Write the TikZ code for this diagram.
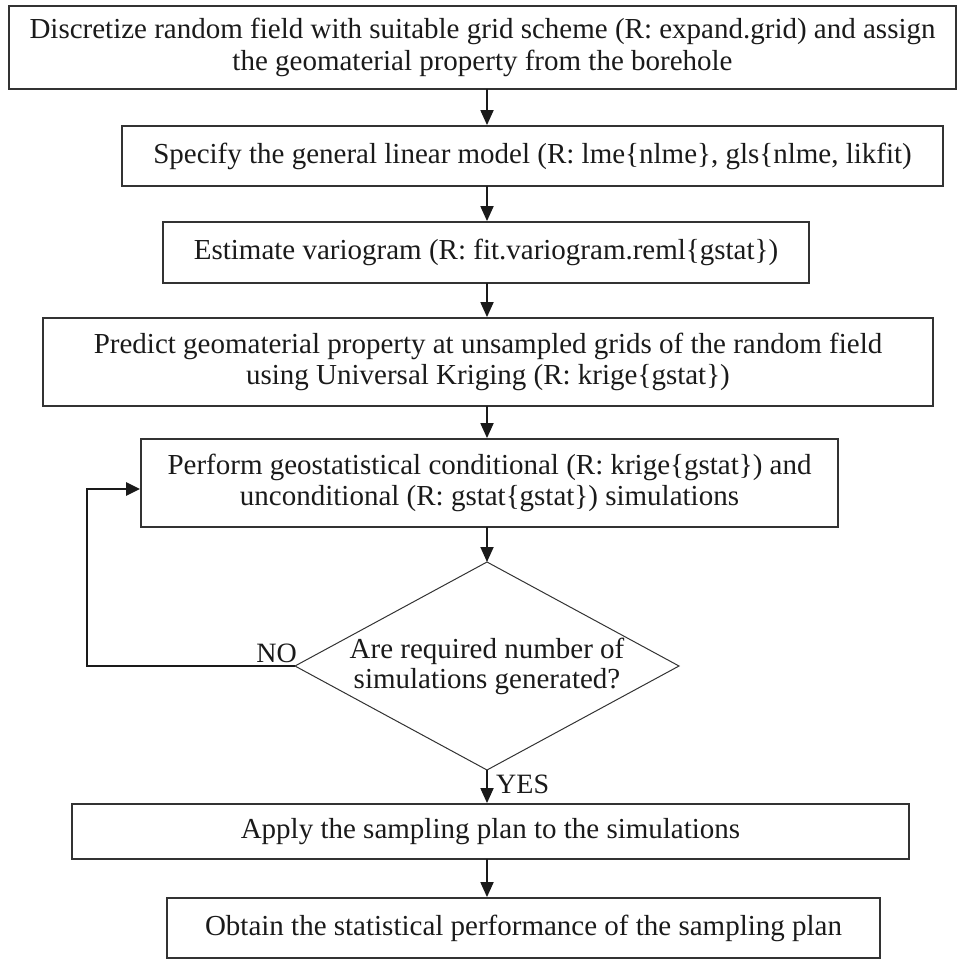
\documentclass[tikz,border=0pt]{standalone}
\usepackage{fontspec}
\setmainfont{Liberation Serif}
\usetikzlibrary{arrows.meta}
\definecolor{edge}{HTML}{333333}
\definecolor{ink}{HTML}{1A1A1A}
\tikzset{
  stepbox/.style={draw=edge, line width=1.8pt, rectangle, inner sep=0pt, align=center,
    text=ink, font=\fontsize{29}{31.5}\selectfont},
  decidetext/.style={inner sep=0pt, align=center, text=ink, font=\fontsize{29}{30}\selectfont},
  decideline/.style={draw=edge, line width=1pt},
  flow/.style={draw=ink, line width=1.8pt, -{Triangle[length=15pt,width=13pt]}},
  loopline/.style={draw=ink, line width=2.4pt, -{Triangle[length=14pt,width=13pt]}},
  lbl/.style={text=ink, inner sep=0pt, font=\fontsize{28}{30}\selectfont}
}
\begin{document}
\begin{tikzpicture}[x=1pt,y=-1pt]
\useasboundingbox (0,0) rectangle (957,960);
\node[stepbox, minimum width=947pt, minimum height=83pt] (b1) at (482.5,47.5)
  {Discretize random field with suitable grid scheme (R: expand.grid) and assign\\the geomaterial property from the borehole};
\node[stepbox, minimum width=821pt, minimum height=60pt] (b2) at (532.5,156)
  {Specify the general linear model (R: lme\{nlme\}, gls\{nlme, likfit)};
\node[stepbox, minimum width=646pt, minimum height=61pt] (b3) at (486,252.5)
  {Estimate variogram (R: fit.variogram.reml\{gstat\})};
\node[stepbox, minimum width=890pt, minimum height=88pt] (b4) at (488,362)
  {Predict geomaterial property at unsampled grids of the random field\\using Universal Kriging (R: krige\{gstat\})};
\node[stepbox, minimum width=697pt, minimum height=88pt] (b5) at (489.5,483)
  {Perform geostatistical conditional (R: krige\{gstat\}) and\\unconditional (R: gstat\{gstat\}) simulations};

\node[decidetext] (d) at (487,666) {Are required number of\\simulations generated?};
\coordinate (dN) at (487,562);
\coordinate (dE) at (679,666);
\coordinate (dS) at (487,770);
\coordinate (dW) at (295,666);
\draw[decideline] (dN) -- (dE) -- (dS) -- (dW) -- cycle;

\node[stepbox, minimum width=837pt, minimum height=55pt] (b6) at (490.5,831.5)
  {Apply the sampling plan to the simulations};
\node[stepbox, minimum width=713pt, minimum height=60pt] (b7) at (523.5,928)
  {Obtain the statistical performance of the sampling plan};

\coordinate (c1) at (487,89);
\coordinate (c2) at (487,186);
\coordinate (c3) at (487,283);
\coordinate (c4) at (487,406);
\coordinate (c5) at (487,527);
\coordinate (c6) at (487,859);
\draw[flow] (c1) -- (c1 |- b2.north);
\draw[flow] (c2) -- (c2 |- b3.north);
\draw[flow] (c3) -- (c3 |- b4.north);
\draw[flow] (c4) -- (c4 |- b5.north);
\draw[flow] (c5) -- (dN);
\draw[flow] (dS) -- (dS |- b6.north);
\draw[flow] (c6) -- (c6 |- b7.north);

\coordinate (lp) at (87,489);
\draw[loopline] (dW) -- (lp |- dW) -- (lp) -- (b5.west |- lp);

\node[lbl, anchor=base east] (no) at (297,662) {NO};
\node[lbl, anchor=base west] (yes) at (496,793) {YES};
\end{tikzpicture}
\end{document}
